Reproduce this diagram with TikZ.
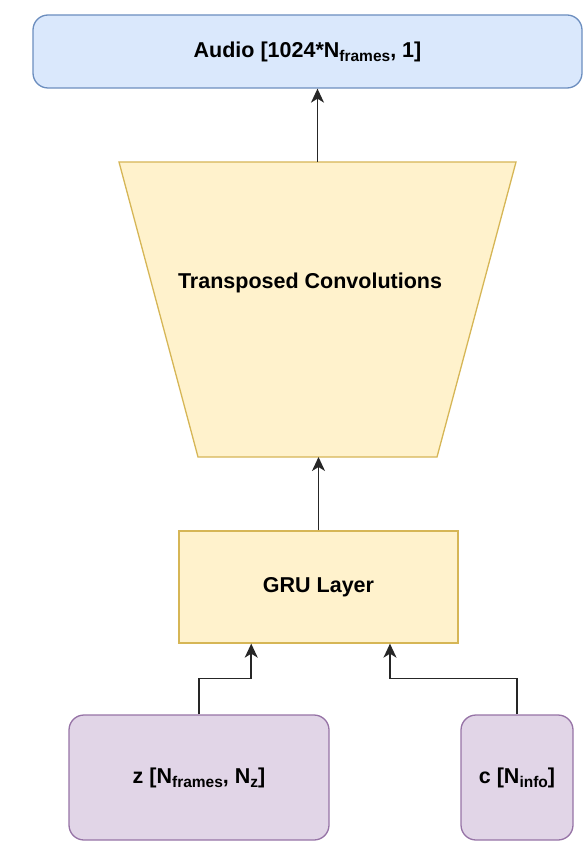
\documentclass[tikz,border=0pt]{standalone}
\usepackage{fontspec}
\setmainfont{Liberation Sans}
\usetikzlibrary{calc,arrows.meta}

\definecolor{audiofill}{HTML}{DAE8FC}
\definecolor{audiodraw}{HTML}{6C8EBF}
\definecolor{layerfill}{HTML}{FFF2CC}
\definecolor{layerdraw}{HTML}{D6B656}
\definecolor{inputfill}{HTML}{E1D5E7}
\definecolor{inputdraw}{HTML}{9673A6}

\newcommand{\lowtxt}[1]{\raisebox{-0.35ex}{\fontsize{15.5}{15.5}\selectfont #1}}

\begin{document}
\begin{tikzpicture}[
  x=1pt, y=-1pt,
  every node/.style={font=\fontsize{21.5}{25}\selectfont\bfseries, inner sep=0pt},
  audiobox/.style={draw=audiodraw, fill=audiofill, line width=1.3pt, rounded corners=15pt},
  layerbox/.style={draw=layerdraw, fill=layerfill, line width=1.3pt},
  inputbox/.style={draw=inputdraw, fill=inputfill, line width=1.3pt, rounded corners=15pt},
  arr/.style={draw=black!85, line width=1.6pt, -{Stealth[length=14pt, width=13pt, inset=4pt]}}
]
\useasboundingbox (0,0) rectangle (585,842);

\node[audiobox, minimum width=549pt, minimum height=73pt] (audio) at (307.5,51.5)
  {Audio [1024*N\lowtxt{frames}, 1]};

% transposed convolutions (trapezoid)
\coordinate (tctop) at (317.5,162);
\coordinate (tcbot) at (317.5,457);
\draw[layerbox] (119,162) -- (516,162) -- (437,457) -- (198,457) -- cycle;
\node (tconv) at (310,283) {Transposed Convolutions};

\node[layerbox, minimum width=279pt, minimum height=112pt] (gru) at (318.5,587) {GRU Layer};

\node[inputbox, minimum width=260pt, minimum height=125pt] (z) at (199,777.5)
  {z [N\lowtxt{frames}, N\lowtxt{z}]};
\node[inputbox, minimum width=112pt, minimum height=125pt] (c) at (517,777.5)
  {c [N\lowtxt{info}]};

% connectors
\coordinate (zin) at ($(gru.south west)!0.26!(gru.south east)$);
\coordinate (cin) at ($(gru.south west)!0.755!(gru.south east)$);

\draw[arr] (tctop) -- (tctop |- audio.south);
\draw[arr] (gru.north) -- (gru.north |- tcbot);
\draw[arr] (z.north) -- ++(0,-36) -| (zin);
\draw[arr] (c.north) -- ++(0,-36) -| (cin);
\end{tikzpicture}
\end{document}
